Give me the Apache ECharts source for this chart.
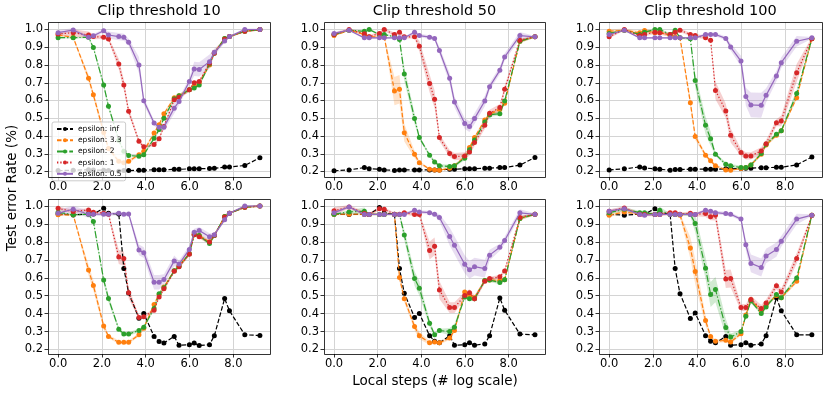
<!DOCTYPE html>
<html><head><meta charset="utf-8">
<script src="https://cdn.jsdelivr.net/npm/echarts@6/dist/echarts.min.js"></script>
<style>html,body{margin:0;padding:0;background:#fff}#c{width:830px;height:394px}</style>
</head><body><div id="c"></div>
<script>
// ---------- data ----------
const steps = [0.00,0.69,1.39,1.61,2.08,2.30,2.77,3.00,3.22,3.69,3.91,4.38,4.61,4.83,5.30,5.52,5.99,6.21,6.44,6.91,7.13,7.60,7.82,8.52,9.21];
const xTickVals = [0,2,4,6,8];
const yTickVals = [0.2,0.3,0.4,0.5,0.6,0.7,0.8,0.9,1.0];
const titles = ['Clip threshold 10','Clip threshold 50','Clip threshold 100'];
const seriesNames = ['epsilon: inf','epsilon: 3.3','epsilon: 2','epsilon: 1','epsilon: 0.5'];

// top row (a) clip 10 / 50 / 100
const a10_inf = [0.205,0.207,0.21,0.208,0.207,0.206,0.202,0.205,0.205,0.207,0.207,0.21,0.21,0.21,0.212,0.212,0.215,0.215,0.216,0.217,0.218,0.225,0.225,0.234,0.277];
const a10_e33 = [0.969,0.956,0.726,0.632,0.42,0.33,0.258,0.249,0.258,0.294,0.314,0.417,0.464,0.525,0.615,0.627,0.66,0.68,0.698,0.80,0.87,0.95,0.96,0.99,1.0];
const a10_e2  = [0.954,0.954,0.956,0.898,0.688,0.567,0.376,0.314,0.29,0.286,0.295,0.387,0.436,0.50,0.61,0.627,0.66,0.67,0.688,0.805,0.866,0.95,0.96,0.99,1.0];
const a10_e1  = [0.975,0.982,0.969,0.96,0.956,0.947,0.805,0.688,0.539,0.37,0.339,0.352,0.385,0.454,0.604,0.619,0.66,0.70,0.707,0.81,0.866,0.945,0.96,0.99,1.0];
const a10_e05 = [0.982,0.997,0.956,0.965,0.993,0.969,0.96,0.956,0.928,0.80,0.598,0.473,0.449,0.45,0.557,0.595,0.707,0.778,0.775,0.819,0.872,0.935,0.96,1.0,1.0];

const a50_inf = [0.204,0.209,0.222,0.216,0.213,0.209,0.206,0.209,0.209,0.209,0.209,0.209,0.209,0.209,0.213,0.213,0.215,0.215,0.215,0.219,0.219,0.222,0.222,0.236,0.279];
const a50_e33 = [0.966,0.996,0.972,0.959,0.959,0.959,0.653,0.663,0.419,0.297,0.25,0.213,0.209,0.207,0.219,0.232,0.284,0.335,0.391,0.49,0.522,0.55,0.584,0.934,0.959];
const a50_e2  = [0.972,0.996,0.99,1.0,0.972,0.972,0.959,0.944,0.75,0.498,0.391,0.292,0.254,0.232,0.228,0.232,0.275,0.322,0.378,0.479,0.519,0.526,0.597,0.934,0.959];
const a50_e1  = [0.972,1.0,0.976,0.959,0.978,1.0,0.972,0.985,0.959,0.959,0.906,0.696,0.607,0.391,0.301,0.284,0.288,0.31,0.363,0.46,0.528,0.56,0.663,0.94,0.959];
const a50_e05 = [0.978,0.996,0.953,0.953,0.953,0.953,0.953,0.953,0.953,0.985,0.966,0.957,0.95,0.882,0.725,0.592,0.47,0.453,0.498,0.597,0.678,0.77,0.845,0.966,0.959];

const a100_inf = [0.209,0.215,0.226,0.22,0.215,0.213,0.207,0.211,0.211,0.213,0.213,0.213,0.213,0.213,0.215,0.215,0.217,0.219,0.219,0.221,0.221,0.224,0.224,0.237,0.282];
const a100_e33 = [0.99,0.996,0.981,0.994,0.981,0.985,0.966,0.959,0.953,0.588,0.397,0.292,0.26,0.232,0.209,0.207,0.217,0.222,0.237,0.297,0.35,0.404,0.429,0.616,0.948];
const a100_e2  = [0.978,0.996,0.972,0.985,1.0,1.0,0.972,0.996,0.953,0.948,0.713,0.46,0.385,0.297,0.241,0.232,0.222,0.222,0.237,0.301,0.353,0.41,0.429,0.64,0.948];
const a100_e1  = [0.959,1.0,0.966,0.972,0.985,0.981,0.972,0.985,0.996,0.972,0.966,0.953,0.94,0.657,0.541,0.404,0.307,0.288,0.288,0.316,0.357,0.475,0.485,0.756,0.948];
const a100_e05 = [0.972,0.996,0.953,0.953,0.953,0.953,0.953,0.953,0.953,0.953,0.953,0.972,0.972,0.972,0.95,0.901,0.822,0.622,0.575,0.573,0.629,0.738,0.813,0.934,0.953];

// bottom row (b) clip 10 / 50 / 100
const b10_inf = [0.955,0.95,0.955,0.955,0.987,0.96,0.955,0.652,0.515,0.374,0.401,0.273,0.245,0.236,0.273,0.223,0.227,0.236,0.222,0.227,0.277,0.484,0.416,0.282,0.278];
const b10_e33 = [0.951,0.951,0.643,0.557,0.331,0.273,0.24,0.24,0.24,0.282,0.319,0.451,0.507,0.548,0.639,0.667,0.734,0.844,0.835,0.799,0.835,0.941,0.96,0.993,1.0];
const b10_e2  = [0.965,0.951,0.954,0.914,0.588,0.484,0.313,0.286,0.286,0.306,0.324,0.429,0.511,0.544,0.639,0.663,0.734,0.84,0.835,0.791,0.835,0.941,0.96,0.993,1.0];
const b10_e1  = [0.987,0.969,0.978,0.965,0.96,0.954,0.716,0.707,0.516,0.379,0.383,0.419,0.493,0.538,0.636,0.661,0.731,0.84,0.828,0.799,0.837,0.938,0.96,0.993,1.0];
const b10_e05 = [0.96,0.982,0.954,0.954,0.954,0.954,0.96,0.954,0.956,0.755,0.74,0.575,0.575,0.59,0.694,0.676,0.758,0.853,0.863,0.828,0.84,0.923,0.96,1.0,1.0];

const b50_inf = [0.954,0.953,0.954,0.953,0.991,0.96,0.954,0.651,0.514,0.379,0.401,0.277,0.246,0.237,0.277,0.224,0.227,0.237,0.224,0.231,0.277,0.487,0.419,0.286,0.282];
const b50_e33 = [0.954,0.954,0.954,0.953,0.953,0.953,0.953,0.602,0.483,0.328,0.277,0.237,0.242,0.237,0.264,0.306,0.52,0.501,0.489,0.584,0.587,0.584,0.589,0.931,0.954];
const b50_e2  = [0.954,0.967,0.971,0.953,0.953,0.953,0.953,0.953,0.839,0.596,0.542,0.346,0.282,0.306,0.30,0.324,0.492,0.483,0.483,0.584,0.587,0.574,0.589,0.931,0.954];
const b50_e1  = [0.973,0.995,0.958,0.953,0.985,0.982,0.954,0.954,0.962,0.953,0.953,0.752,0.775,0.532,0.434,0.434,0.501,0.516,0.483,0.58,0.596,0.605,0.638,0.936,0.954];
const b50_e05 = [0.963,0.995,0.953,0.953,0.953,0.953,0.953,0.953,0.953,0.976,0.967,0.963,0.954,0.936,0.83,0.781,0.675,0.644,0.662,0.651,0.726,0.77,0.808,0.962,0.954];

const b100_inf = [0.953,0.949,0.955,0.955,0.985,0.96,0.955,0.651,0.511,0.373,0.404,0.277,0.246,0.237,0.273,0.224,0.227,0.237,0.224,0.231,0.277,0.489,0.416,0.282,0.282];
const b100_e33 = [0.949,0.967,0.953,0.953,0.953,0.953,0.953,0.953,0.949,0.766,0.635,0.361,0.273,0.246,0.251,0.242,0.288,0.392,0.478,0.415,0.447,0.501,0.489,0.58,0.949];
const b100_e2  = [0.963,0.982,0.963,0.963,0.953,0.976,0.953,0.953,0.953,0.953,0.903,0.653,0.507,0.534,0.322,0.269,0.30,0.386,0.47,0.401,0.437,0.507,0.489,0.598,0.949];
const b100_e1  = [0.971,0.989,0.954,0.953,0.953,0.953,0.963,0.963,0.954,0.96,0.953,0.958,0.94,0.949,0.593,0.596,0.434,0.434,0.479,0.428,0.459,0.556,0.52,0.708,0.949];
const b100_e05 = [0.971,0.985,0.953,0.949,0.953,0.953,0.953,0.953,0.953,0.953,0.953,0.976,0.971,0.963,0.958,0.954,0.927,0.784,0.68,0.657,0.721,0.757,0.803,0.927,0.949];

// shaded band half-widths (std)
const a10_e33_sd = [0.005,0.005,0.02,0.02,0.02,0.015,0.01,0.01,0.01,0.01,0.01,0.01,0.01,0.01,0.01,0.01,0.01,0.01,0.01,0.01,0.01,0.005,0.005,0.005,0.005];
const a10_e2_sd  = [0.005,0.005,0.005,0.01,0.015,0.015,0.01,0.01,0.005,0.005,0.01,0.01,0.01,0.01,0.01,0.01,0.01,0.01,0.01,0.01,0.01,0.005,0.005,0.005,0.005];
const a10_e1_sd  = [0.01,0.02,0.02,0.015,0.01,0.01,0.03,0.03,0.02,0.01,0.01,0.01,0.01,0.01,0.01,0.01,0.01,0.01,0.01,0.01,0.01,0.005,0.005,0.005,0.005];
const a10_e05_sd = [0.015,0.01,0.01,0.01,0.01,0.02,0.02,0.02,0.02,0.045,0.02,0.015,0.015,0.02,0.03,0.02,0.02,0.04,0.04,0.04,0.02,0.01,0.005,0.005,0.005];
const a50_e33_sd = [0.005,0.005,0.005,0.005,0.005,0.005,0.08,0.08,0.05,0.02,0.01,0.005,0.005,0.005,0.005,0.005,0.01,0.01,0.01,0.01,0.01,0.01,0.01,0.01,0.005];
const a50_e2_sd  = [0.005,0.005,0.005,0.005,0.005,0.005,0.005,0.01,0.04,0.03,0.01,0.01,0.01,0.01,0.01,0.01,0.01,0.01,0.01,0.01,0.01,0.01,0.01,0.01,0.005];
const a50_e1_sd  = [0.01,0.005,0.01,0.01,0.01,0.01,0.01,0.01,0.01,0.01,0.03,0.05,0.05,0.02,0.02,0.02,0.02,0.02,0.02,0.02,0.02,0.02,0.02,0.01,0.005];
const a50_e05_sd = [0.01,0.005,0.005,0.005,0.005,0.005,0.005,0.005,0.005,0.01,0.01,0.01,0.01,0.02,0.03,0.03,0.03,0.03,0.03,0.03,0.02,0.02,0.02,0.02,0.005];
const a100_e33_sd = [0.01,0.01,0.01,0.01,0.01,0.01,0.01,0.01,0.01,0.03,0.02,0.01,0.01,0.01,0.005,0.005,0.005,0.005,0.005,0.01,0.01,0.01,0.01,0.01,0.005];
const a100_e2_sd  = [0.01,0.005,0.005,0.005,0.005,0.005,0.005,0.005,0.005,0.01,0.04,0.05,0.04,0.01,0.01,0.01,0.01,0.01,0.01,0.01,0.01,0.01,0.01,0.02,0.005];
const a100_e1_sd  = [0.01,0.005,0.01,0.01,0.01,0.01,0.01,0.01,0.01,0.01,0.01,0.01,0.01,0.05,0.04,0.04,0.02,0.02,0.02,0.02,0.02,0.02,0.03,0.05,0.01];
const a100_e05_sd = [0.01,0.005,0.005,0.005,0.005,0.005,0.005,0.005,0.005,0.005,0.005,0.01,0.01,0.01,0.01,0.02,0.03,0.05,0.07,0.07,0.04,0.03,0.03,0.03,0.005];
const b10_e33_sd = [0.005,0.005,0.03,0.03,0.02,0.01,0.01,0.01,0.01,0.01,0.01,0.01,0.01,0.01,0.01,0.01,0.01,0.01,0.01,0.01,0.01,0.005,0.005,0.005,0.005];
const b10_e2_sd  = [0.005,0.005,0.005,0.01,0.02,0.02,0.01,0.01,0.01,0.01,0.01,0.01,0.01,0.01,0.01,0.01,0.01,0.01,0.01,0.01,0.01,0.005,0.005,0.005,0.005];
const b10_e1_sd  = [0.01,0.01,0.01,0.01,0.01,0.01,0.04,0.04,0.03,0.01,0.01,0.01,0.01,0.01,0.01,0.01,0.01,0.01,0.01,0.01,0.01,0.005,0.005,0.005,0.005];
const b10_e05_sd = [0.02,0.02,0.02,0.01,0.01,0.01,0.01,0.01,0.01,0.03,0.03,0.04,0.04,0.03,0.03,0.02,0.02,0.02,0.02,0.02,0.01,0.01,0.005,0.005,0.005];
const b50_e33_sd = [0.005,0.005,0.005,0.005,0.005,0.005,0.005,0.02,0.02,0.02,0.02,0.01,0.01,0.01,0.01,0.01,0.01,0.01,0.01,0.01,0.01,0.01,0.01,0.01,0.005];
const b50_e2_sd  = [0.005,0.01,0.02,0.005,0.005,0.005,0.005,0.01,0.03,0.04,0.04,0.02,0.01,0.01,0.02,0.02,0.01,0.01,0.01,0.01,0.01,0.01,0.01,0.01,0.005];
const b50_e1_sd  = [0.02,0.01,0.01,0.01,0.01,0.01,0.01,0.01,0.01,0.01,0.01,0.05,0.05,0.05,0.03,0.03,0.02,0.02,0.02,0.01,0.01,0.01,0.01,0.01,0.005];
const b50_e05_sd = [0.01,0.005,0.005,0.005,0.005,0.005,0.005,0.005,0.005,0.01,0.01,0.01,0.01,0.02,0.05,0.05,0.05,0.05,0.05,0.05,0.03,0.02,0.02,0.02,0.005];
const b100_e33_sd = [0.01,0.01,0.005,0.005,0.005,0.005,0.005,0.005,0.01,0.06,0.07,0.03,0.01,0.01,0.01,0.01,0.01,0.01,0.01,0.01,0.01,0.01,0.01,0.01,0.005];
const b100_e2_sd  = [0.01,0.01,0.01,0.01,0.01,0.02,0.005,0.005,0.005,0.01,0.05,0.06,0.07,0.07,0.05,0.02,0.01,0.01,0.01,0.01,0.01,0.01,0.01,0.01,0.005];
const b100_e1_sd  = [0.01,0.01,0.01,0.01,0.01,0.01,0.01,0.01,0.01,0.01,0.01,0.02,0.02,0.03,0.05,0.05,0.02,0.02,0.02,0.02,0.02,0.02,0.02,0.03,0.005];
const b100_e05_sd = [0.01,0.01,0.005,0.005,0.005,0.005,0.005,0.005,0.005,0.005,0.005,0.01,0.01,0.01,0.01,0.01,0.01,0.03,0.05,0.05,0.04,0.04,0.03,0.03,0.005];

// ---------- layout / style ----------
const panels = [
  {row:0,col:0,vals:[a10_inf,a10_e33,a10_e2,a10_e1,a10_e05],sds:[null,a10_e33_sd,a10_e2_sd,a10_e1_sd,a10_e05_sd]},
  {row:0,col:1,vals:[a50_inf,a50_e33,a50_e2,a50_e1,a50_e05],sds:[null,a50_e33_sd,a50_e2_sd,a50_e1_sd,a50_e05_sd]},
  {row:0,col:2,vals:[a100_inf,a100_e33,a100_e2,a100_e1,a100_e05],sds:[null,a100_e33_sd,a100_e2_sd,a100_e1_sd,a100_e05_sd]},
  {row:1,col:0,vals:[b10_inf,b10_e33,b10_e2,b10_e1,b10_e05],sds:[null,b10_e33_sd,b10_e2_sd,b10_e1_sd,b10_e05_sd]},
  {row:1,col:1,vals:[b50_inf,b50_e33,b50_e2,b50_e1,b50_e05],sds:[null,b50_e33_sd,b50_e2_sd,b50_e1_sd,b50_e05_sd]},
  {row:1,col:2,vals:[b100_inf,b100_e33,b100_e2,b100_e1,b100_e05],sds:[null,b100_e33_sd,b100_e2_sd,b100_e1_sd,b100_e05_sd]}
];
const colors = ['#000000','#ff7f0e','#2ca02c','#d62728','#9467bd'];
const rgba = ['rgba(0,0,0,0.2)','rgba(255,127,14,0.22)','rgba(44,160,44,0.22)','rgba(214,39,40,0.22)','rgba(148,103,189,0.22)'];
const dashes = [[4.5,2],[4.5,2],[7,2,1.3,2],[1.3,2],'solid'];
const colL=[48,324,599], colR=[270,545,822];
const rowT=[22,199], rowB=[177,354], rowY1=[29.5,206], rowY02=[171.5,349.5];
const XMIN=-0.46, XMAX=9.67;
const FONT='DejaVu Sans';

const grid=[], xAxis=[], yAxis=[], series=[], graphic=[];
panels.forEach((p,pi)=>{
  const L=colL[p.col], R=colR[p.col], w=R-L;
  const x0 = L + (0-XMIN)/(XMAX-XMIN)*w, x8 = L + (8-XMIN)/(XMAX-XMIN)*w;
  grid.push({left:L, top:rowY1[p.row], width:w, height:rowY02[p.row]-rowY1[p.row], containLabel:false});
  grid.push({left:x0, top:rowT[p.row], width:x8-x0, height:rowB[p.row]-rowT[p.row], containLabel:false});
  const gA=2*pi, gB=2*pi+1;
  xAxis.push({gridIndex:gA,type:'value',min:XMIN,max:XMAX,show:false});
  yAxis.push({gridIndex:gA,type:'value',min:yTickVals[0],max:yTickVals[yTickVals.length-1],interval:0.1,
    axisLine:{show:false,onZero:false},
    axisTick:{show:true,length:3.5,inside:false,lineStyle:{color:'#000',width:0.8}},
    axisLabel:{show:true,margin:5,fontFamily:FONT,fontSize:11.5,color:'#000',formatter:v=>v.toFixed(1)},
    splitLine:{show:true,lineStyle:{color:'#d4d4d4',width:1}}});
  xAxis.push({gridIndex:gB,type:'value',min:xTickVals[0],max:xTickVals[xTickVals.length-1],interval:2,
    axisLine:{show:false,onZero:false},
    axisTick:{show:true,length:3.5,inside:false,lineStyle:{color:'#000',width:0.8}},
    axisLabel:{show:true,margin:4,fontFamily:FONT,fontSize:11.5,color:'#000',formatter:v=>v.toFixed(1)},
    splitLine:{show:true,lineStyle:{color:'#d4d4d4',width:1}}});
  yAxis.push({gridIndex:gB,type:'value',min:0,max:1,show:false});

  p.vals.forEach((v,si)=>{
    const sd=p.sds[si];
    if(sd){
      series.push({type:'custom',xAxisIndex:gA,yAxisIndex:gA,silent:true,z:1,
        data:[[steps[0],v[0]]],
        renderItem:(params,api)=>{
          const up=steps.map((x,i)=>api.coord([x,v[i]+sd[i]]));
          const lo=steps.map((x,i)=>api.coord([x,v[i]-sd[i]])).reverse();
          return {type:'polygon',shape:{points:up.concat(lo)},style:{fill:rgba[si],stroke:null}};
        }});
    }
    series.push({type:'line',name:seriesNames[si],xAxisIndex:gA,yAxisIndex:gA,clip:false,
      data:steps.map((x,i)=>[x,v[i]]),
      symbol:'circle',symbolSize:5,showSymbol:true,z:2+si,
      lineStyle:{color:colors[si],width:1.2,type:dashes[si]},
      itemStyle:{color:colors[si]},emphasis:{disabled:true}});
  });
  graphic.push({type:'rect',z:100,silent:true,
    shape:{x:L+0.5,y:rowT[p.row]+0.5,width:w,height:rowB[p.row]-rowT[p.row]},
    style:{fill:null,stroke:'#000',lineWidth:0.8}});
});
titles.forEach((t,c)=>{
  graphic.push({type:'text',z:100,silent:true,style:{text:t,x:(colL[c]+colR[c])/2,y:11,
    textAlign:'center',textVerticalAlign:'middle',font:'14.5px "DejaVu Sans"',fill:'#000'}});
});
graphic.push({type:'text',z:100,silent:true,rotation:Math.PI/2,x:12,y:188,
  style:{text:'Test error Rate (%)',x:0,y:0,textAlign:'center',textVerticalAlign:'middle',font:'13.5px "DejaVu Sans"',fill:'#000'}});
graphic.push({type:'text',z:100,silent:true,style:{text:'Local steps (# log scale)',x:435,y:381,
  textAlign:'center',textVerticalAlign:'middle',font:'13.5px "DejaVu Sans"',fill:'#000'}});

const chart = echarts.init(document.getElementById('c'),null,{renderer:'canvas',width:830,height:394});
chart.setOption({
  animation:false,
  backgroundColor:'#fff',
  grid, xAxis, yAxis, series, graphic,
  legend:{data:seriesNames,orient:'vertical',left:52,top:122,itemWidth:16,itemHeight:5,itemGap:3.2,
    padding:[3,4,3,4],backgroundColor:'rgba(255,255,255,0.8)',borderColor:'#ccc',borderWidth:1,borderRadius:2,
    textStyle:{fontFamily:FONT,fontSize:7.5,color:'#000'},z:50,selectedMode:false}
});
</script></body></html>
